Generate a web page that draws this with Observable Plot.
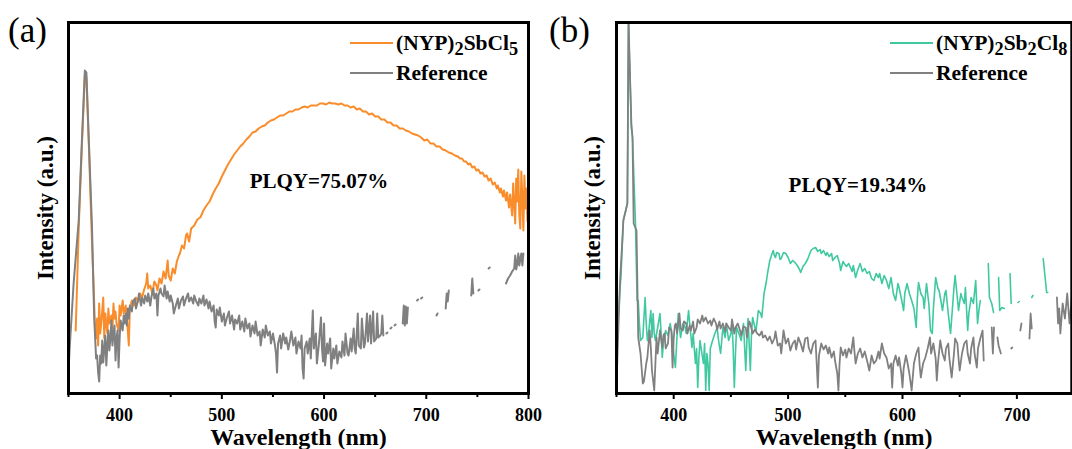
<!DOCTYPE html>
<html><head><meta charset="utf-8">
<script src="https://cdn.jsdelivr.net/npm/d3@7"></script>
<script src="https://cdn.jsdelivr.net/npm/@observablehq/plot@0.6"></script>
<style>
html,body{margin:0;padding:0;background:#fff;}
#wrap{position:relative;width:1072px;height:449px;overflow:hidden;font-family:"Liberation Serif","Times New Roman",serif;color:#000;}
.panel{position:absolute;top:0;}
.plabel{position:absolute;font-size:35px;line-height:35px;}
.row{position:absolute;white-space:nowrap;display:flex;align-items:center;font-weight:bold;font-size:21.5px;line-height:20px;height:20px;}
.sw{display:inline-block;width:43px;height:2px;margin-right:3px;}
.sub{font-size:0.85em;position:relative;top:0.3em;}
</style></head>
<body><div id="wrap"></div>
<script>
// ---------- data ----------
const panelLabels = ["(a)", "(b)"];
const seriesNamesA = ["(NYP)<span class='sub'>2</span>SbCl<span class='sub'>5</span>", "Reference"];
const seriesNamesB = ["(NYP)<span class='sub'>2</span>Sb<span class='sub'>2</span>Cl<span class='sub'>8</span>", "Reference"];
const plqyTexts = ["PLQY=75.07%", "PLQY=19.34%"];
const plqyX = [595, 561];
const plqyY = [212, 208];
const majorTicksA = [400, 500, 600, 700, 800];
const minorTicksA = [350, 450, 550, 650, 750];
const majorTicksB = [400, 500, 600, 700];
const minorTicksB = [350, 450, 550, 650];
const xDomainA = [350, 800];
const xDomainB = [350, 748];
const yDomain = [0, 371];

// (NYP)2SbCl5 emission, panel (a)  [wavelength nm, intensity a.u.]
const sampleA = [
[357,63],[358,95],[360,165],[363,245],[366,318],[367.5,316],[370,245],[373,150],[375,95],[376,60],[377,55],[378,75],[379,48],[380,90],[381,60],[382,70],[384,96],[385,55],[386,80],[388,60],[389,85],[390,70],[392,78],[393,65],[394,90],[395,75],[396,82],[397,70],[399,63],[400,88],[401,78],[403,93],[404,80],[406,88],[408,63],[409,48],[410,85],[412,93],[414,88],[416,96],[418,92],[420,100],[422,96],[424,104],[426,110],[427,120],[428,105],[430,108],[432,100],[434,112],[436,108],[437,103],[439,115],[441,110],[443,122],[445,115],[447,133],[448,118],[450,113],[452,125],[454,120],[456,132],[458,138],[459,140],[461,148],[463,145],[465,158],[466,160],[468,152],[470,165],[473,168],[476,174],[479,176],[482,183],[485,188],[488,192],[491,199],[494,205],[497,210],[500,217],[503,223],[506,229],[509,234],[512,239],[515,243],[518,247],[521,250],[524,254],[527,257],[530,261],[533,262],[536,265],[539,267],[542,268],[545,271],[548,273],[551,274],[554,276],[557,278],[560,278],[563,280],[566,282],[569,282],[572,284],[575,284],[578,286],[581,287],[584,286],[587,288],[590,288],[593,288],[596,290],[599,290],[602,289],[605,291],[608,290],[611,290],[614,289],[617,290],[620,288],[623,288],[626,286],[629,287],[632,284],[635,285],[638,282],[641,282],[644,279],[647,280],[650,277],[653,277],[656,274],[659,274],[662,271],[665,271],[668,268],[671,268],[674,265],[677,265],[680,263],[683,262],[686,260],[689,259],[692,258],[695,256],[698,253],[701,254],[704,250],[707,250],[710,247],[713,247],[716,244],[719,243],[722,241],[725,240],[728,238],[731,237],[733,235],[735,235],[737,232],[739,232],[741,229],[743,230],[745,226],[747,227],[749,223],[751,224],[753,220],[755,221],[757,217],[759,218],[761,213],[763,215],[765,209],[767,211],[769,205],[770,208],[772,201],[773,205],[775,197],[776,203],[778,193],[779,201],[781,186],[782,199],[784,178],[785,210],[787,170],[788,215],[789,192],[790,224],[791,178],[792,165],[793,222],[794,195],[795,163],[796,218],[797,185],[798,205],[799,172],[800,200]
];

// Reference, panel (a)
const referenceA = [
[350,21],[351,43],[355,110],[360,173],[363,250],[366,323],[367.5,321],[370,250],[373,166],[375,80],[377,35],[378,38],[379,21],[380,12],[381,38],[382,30],[383,53],[384,31],[385,45],[386,58],[387,28],[388,48],[389,63],[390,43],[391,55],[392,73],[393,48],[394,60],[395,68],[396,33],[397,55],[398,63],[399,26],[400,55],[401,73],[402,68],[403,63],[404,78],[405,70],[406,80],[407,68],[408,85],[409,75],[410,88],[412,82],[413,92],[415,95],[416,85],[418,93],[419,100],[421,88],[422,96],[424,90],[425,98],[427,92],[428,100],[430,88],[431,96],[433,105],[434,95],[436,100],[437,78],[438,98],[440,105],[441,100],[443,97],[444,108],[446,95],[447,102],[449,92],[450,98],[452,90],[453,80],[455,88],[457,95],[458,85],[460,93],[462,97],[463,88],[465,95],[467,100],[468,92],[470,96],[472,90],[473,98],[475,92],[477,88],[478,95],[480,90],[482,98],[483,88],[485,94],[487,85],[488,92],[490,82],[492,88],[493,72],[494,66],[495,84],[497,78],[498,86],[500,72],[502,80],[503,68],[505,76],[507,82],[508,70],[510,78],[512,64],[513,74],[515,70],[517,78],[518,64],[520,72],[522,62],[523,75],[525,65],[527,70],[528,57],[530,68],[532,60],[533,72],[535,58],[537,62],[538,48],[540,64],[542,56],[543,68],[545,58],[547,62],[548,50],[550,60],[552,48],[553,40],[554,21],[555,50],[557,58],[558,45],[560,60],[562,50],[563,56],[565,44],[567,55],[568,62],[570,48],[572,56],[573,40],[575,52],[577,45],[578,58],[579,25],[580,15],[581,45],[583,52],[584,40],[586,55],[587,35],[589,83],[590,45],[592,60],[593,30],[595,50],[597,76],[598,45],[599,32],[600,70],[601,28],[603,50],[604,40],[606,55],[607,25],[609,45],[610,35],[612,48],[613,30],[615,42],[617,36],[618,52],[620,38],[621,60],[623,40],[624,38],[626,55],[627,42],[629,65],[630,45],[631,40],[633,80],[634,48],[636,45],[637,75],[639,46],[640,50],[642,80],[643,52],[645,78],[646,50],[648,82],[649,52],[651,55],[652,80],[653,56],[655,58],[656,60],[657,78],[658,58],[659,null],
[661,60],[662,61],[663,null],[665,65],[666,66],[667,null],[669,68],[670,69],[671,null],
[677,70],[678,88],[679,68],[680,87],[681,70],[682,86],[683,null],
[691,93],[692,94],[693,null],[695,95],[696,96],[697,null],
[710,78],[711,80],[712,null],[719,85],[720,100],[721,92],[722,103],[723,null],
[744,98],[745,115],[746,100],[747,null],[751,103],[752,104],[753,null],[761,125],[762,126],[763,null],
[778,110],[780,115],[782,118],[784,122],[786,125],[787,138],[788,124],[789,130],[790,140],[791,128],[792,135],[793,140],[794,128],[795,140]
];

// (NYP)2Sb2Cl8 emission, panel (b)
const sampleB = [
[350.5,60],[351,66],[354,120],[356,173],[359.5,190],[360.5,370],[361.5,330],[363,265],[364,256],[366.6,170],[368,93],[369,93],[370,70],[371,53],[373,56],[375,96],[376,70],[377,53],[378,60],[380,83],[381,56],[382,80],[383,60],[384,53],[386,66],[388,80],[389,60],[390,36],[391,50],[393,63],[395,58],[397,70],[399,55],[400,40],[401.5,26],[403,60],[404,80],[405,66],[406,56],[408,70],[410,66],[411,60],[413,83],[414,70],[416,46],[417,60],[419,30],[420,45],[421,6],[422,35],[423,53],[424,45],[426,30],[427,50],[428,3],[429,40],[430,30],[431,3],[432,45],[434,53],[436,60],[438,66],[439,55],[441,40],[443,66],[445,56],[446,70],[448,53],[450,60],[451,70],[452,45],[453,6],[454,40],[455,66],[457,60],[459,53],[461,70],[463,23],[464,53],[465,75],[467,23],[468,60],[469,76],[471,66],[472,63],[474,83],[476,80],[477,76],[479,100],[481,112],[482,120],[484,133],[486,140],[487,143],[488,138],[489,136],[490,141],[492,140],[493,134],[494,135],[496,141],[498,140],[500,136],[502,130],[504,133],[506,131],[508,128],[510,124],[511,121],[513,127],[515,130],[517,134],[519,140],[520,143],[522,145],[524,146],[526,142],[528,144],[529,140],[531,143],[533,138],[534,141],[536,137],[538,140],[539,133],[541,136],[543,138],[545,130],[546,123],[548,132],[549,130],[551,127],[553,130],[554.5,126],[556,122],[557,128],[559,116],[561,124],[563,130],[565,122],[567,125],[569,120],[571,122],[573,115],[575,113],[577,120],[579,116],[580,120],[582,110],[584,118],[586,113],[588,105],[590,116],[592,100],[594,93],[596,110],[597,106],[599,95],[601,83],[602,100],[604,110],[606,100],[608,93],[610,85],[612,66],[613,95],[614,111],[616,100],[618,96],[619,85],[621,110],[623,90],[624.5,63],[626,60],[627,85],[629,116],[631,105],[632,103],[634,90],[635,83],[637,100],[638,103],[640,80],[642,60],[643,75],[645,106],[646,118],[648,95],[649,83],[651,100],[652,96],[654,90],[655,106],[657,63],[658,80],[660,96],[662,90],[664,113],[665.6,70],[667,85],[668,93],[669,null],
[675,130],[676,96],[678,90],[679.6,81],[680.5,null],
[684,116],[685,83],[687,86],[689,85],[690,null],
[694,120],[695,90],[696,null],[701,91],[702,92],[703,null],
[713,96],[714,98],[715,null],[723,135],[726,101],[727,101]
];

// Reference, panel (b)
const referenceB = [
[350.5,25],[351,43],[353,110],[356,173],[359.5,190],[360.5,375],[361.5,330],[363,270],[364,256],[365,170],[367.5,163],[369,56],[371,40],[373,10],[374,12],[376,30],[377,36],[379,63],[380,46],[381,23],[383,3],[384,30],[385,56],[386,40],[388,63],[389,55],[390,46],[391,58],[392,60],[393,45],[395,50],[396,66],[398,63],[399,26],[400,55],[401,68],[402,70],[403,60],[405,80],[406,65],[408,63],[409,72],[411,70],[412,60],[414,68],[415,63],[417,72],[418,60],[420,66],[421,74],[423,70],[425,78],[426,72],[428,76],[430,70],[432,73],[433,68],[435,75],[437,70],[438,64],[440,72],[441,65],[443,70],[445,62],[446,70],[448,66],[450,63],[451,74],[453,60],[454,66],[456,70],[458,63],[459,58],[461,67],[463,66],[464,56],[466,72],[467,70],[469,60],[471,64],[473,60],[475,58],[477,62],[478,56],[480,58],[482,53],[484,57],[486,50],[488,55],[489,62],[491,48],[493,50],[494,40],[496,63],[498,50],[500,55],[502,43],[504,50],[506,53],[507,44],[509,56],[511,50],[513,42],[515,55],[517,56],[518,46],[520,40],[522,50],[524,53],[525,30],[526,6],[527,38],[529,50],[531,44],[533,48],[535,40],[536,46],[538,36],[540,42],[541,33],[543,20],[544,3],[545,30],[546,46],[548,38],[550,44],[551,36],[553,45],[555,40],[557,56],[558,42],[559,30],[561,40],[563,45],[565,36],[567,42],[569,33],[571,23],[573,38],[575,30],[577,33],[579,42],[580,35],[582,50],[584,40],[586,36],[588,25],[590,30],[591,6],[592,30],[594,38],[596,28],[597,36],[599,20],[600,6],[601,25],[603,38],[604,33],[606,20],[608,3],[610,30],[612,40],[614,46],[615,28],[616,16],[618,30],[620,36],[622,45],[624,56],[625,40],[627,50],[629,35],[630,13],[631,30],[633,53],[635,40],[637,33],[638,45],[640,50],[641,35],[643,16],[645,40],[646,55],[648,50],[649,35],[650,23],[652,40],[654,50],[656,53],[657,40],[659,30],[660,45],[662,56],[663,40],[665,26],[666,45],[668,55],[670,63],[671,33],[672,null],
[678,66],[679,40],[680,66],[681,null],[683,56],[684,48],[686,40],[687,null],
[695,45],[696,46],[697,null],[703,63],[704,70],[705,null],[711,55],[712,80],[713,65],[714,null],
[735,96],[736,70],[737,85],[738,60],[740,90],[742,75],[744,100],[746,70],[748,96]
];

const colors = {orange: "#F98D2B", green: "#40C9A0", gray: "#808080"};

// ---------- drawing ----------
const wrap = document.getElementById("wrap");
const FONT = "Liberation Serif, Times New Roman, serif";

function makePanel(o) {
  const chart = Plot.plot({
    width: 540, height: 449,
    marginLeft: o.marginLeft, marginRight: o.marginRight, marginTop: 22, marginBottom: 56,
    x: {domain: o.xDomain, axis: null},
    y: {domain: yDomain, axis: null},
    style: {fontFamily: FONT, background: "transparent", color: "#000", overflow: "visible"},
    marks: [
      ...o.series.map(s => Plot.line(s.data, {x: d => d[0], y: d => d[1], stroke: s.color, strokeWidth: s.width, clip: true})),
      Plot.axisX({ticks: o.minor, tickSize: 4, strokeWidth: 2, tickFormat: () => ""}),
      Plot.axisX({ticks: o.major, tickSize: 6, tickPadding: 9, strokeWidth: 2, fontSize: 18, fontWeight: "bold", fontFamily: FONT, tickFormat: d => String(d)}),
      Plot.text(["Wavelength (nm)"], {frameAnchor: "bottom", lineAnchor: "middle", textAnchor: "middle", dy: 44, fontSize: 24, fontWeight: "bold", fontFamily: FONT}),
      Plot.text(["Intensity (a.u.)"], {frameAnchor: "left", lineAnchor: "middle", textAnchor: "middle", dx: o.yLabelDx, rotate: -90, fontSize: 23, fontWeight: "bold", fontFamily: FONT}),
      Plot.text([o.plqy], {x: () => o.plqyX, y: () => o.plqyY, fontSize: 21, fontWeight: "bold", fontFamily: FONT}),
      Plot.frame({stroke: "#000", strokeWidth: 3})
    ]
  });
  chart.classList.add("panel");
  chart.style.left = o.left + "px";
  wrap.appendChild(chart);

  const lab = document.createElement("div");
  lab.className = "plabel";
  lab.textContent = o.label;
  lab.style.left = o.labelLeft + "px";
  lab.style.top = "13px";
  wrap.appendChild(lab);

  o.legend.forEach((item, i) => {
    const row = document.createElement("div");
    row.className = "row";
    row.style.left = o.legendLeft + "px";
    row.style.top = (i === 0 ? 33 : 63) + "px";
    row.innerHTML = `<span class="sw" style="background:${item.color}"></span><span>${item.name}</span>`;
    wrap.appendChild(row);
  });
}

makePanel({
  left: 0, marginLeft: 68, marginRight: 12, xDomain: xDomainA,
  major: majorTicksA, minor: minorTicksA, yLabelDx: -23,
  series: [
    {data: sampleA, color: colors.orange, width: 2},
    {data: referenceA, color: colors.gray, width: 2}
  ],
  plqy: plqyTexts[0], plqyX: plqyX[0], plqyY: plqyY[0],
  label: panelLabels[0], labelLeft: 8,
  legendLeft: 350,
  legend: [{name: seriesNamesA[0], color: colors.orange}, {name: seriesNamesA[1], color: colors.gray}]
});

makePanel({
  left: 540, marginLeft: 76, marginRight: 8.7, xDomain: xDomainB,
  major: majorTicksB, minor: minorTicksB, yLabelDx: -24,
  series: [
    {data: sampleB, color: colors.green, width: 1.6},
    {data: referenceB, color: colors.gray, width: 1.8}
  ],
  plqy: plqyTexts[1], plqyX: plqyX[1], plqyY: plqyY[1],
  label: panelLabels[1], labelLeft: 549,
  legendLeft: 890,
  legend: [{name: seriesNamesB[0], color: colors.green}, {name: seriesNamesB[1], color: colors.gray}]
});
</script></body></html>
